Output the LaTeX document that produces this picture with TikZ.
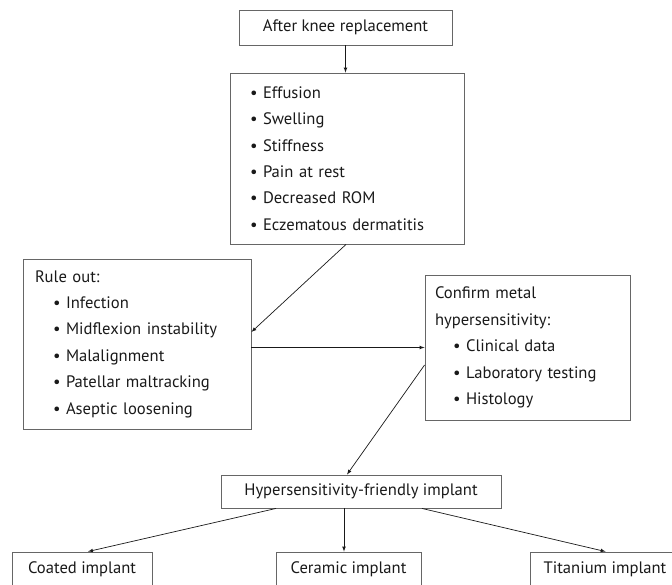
\documentclass[tikz,border=0pt]{standalone}
\usepackage{fontspec}
\setmainfont{PT Sans}
\usepackage{tikz}
\usetikzlibrary{arrows,positioning}
\tikzstyle{block} = [
	draw = black!60,
	line width = 0.9pt,
	rectangle,
	align = left,
	inner sep = 0pt,
	text = black!90,
	font = \fontsize{16.6}{26.4}\selectfont
]
\tikzstyle{line} = [black!90, line width = 0.7pt]
\newcommand{\itm}[1]{\mbox{\textbullet\ #1}}
\newcommand{\subitm}[1]{\mbox{\hspace*{18pt}\textbullet\ #1}}

\begin{document}
\begin{tikzpicture}[x=1pt, y=1pt, node distance=2cm, >=latex']
	\clip (0,0) rectangle (672,-585);
	\node [block, minimum width=213pt, minimum height=35pt] (knee) at (345.5,-27.5) {After knee replacement};
	\node [block, below of=knee, node distance=131pt, xshift=1.5pt, inner xsep=20pt, text width=194pt, minimum height=171pt] (symptoms) {\itm{Effusion}\\ \itm{Swelling}\\ \itm{Stiffness}\\ \itm{Pain at rest}\\ \itm{Decreased ROM}\\ \itm{Eczematous dermatitis}};
	\node [block, inner xsep=12pt, text width=204pt, minimum height=170pt] (ruleout) at (137,-344) {Rule out:\\ \subitm{Infection}\\ \subitm{Midflexion instability}\\ \subitm{Malalignment}\\ \subitm{Patellar maltracking}\\ \subitm{Aseptic loosening}};
	\node [block, inner xsep=10pt, text width=185pt, minimum height=145pt] (confirm) at (527.5,-347.5) {Confirm metal\\ hypersensitivity:\\ \subitm{Clinical data}\\ \subitm{Laboratory testing}\\ \subitm{Histology}};
	\node [block, minimum width=280pt, minimum height=33pt] (friendly) at (361,-491.5) {Hypersensitivity-friendly implant};
	\node [block, below of=friendly, node distance=78pt, xshift=-12.5pt, minimum width=145pt, minimum height=35pt] (ceramic) {Ceramic implant};
	\node [block, left of=ceramic, node distance=266.5pt, minimum width=140pt, minimum height=35pt] (coated) {Coated implant};
	\node [block, right of=ceramic, node distance=256.5pt, minimum width=150pt, minimum height=35pt] (titanium) {Titanium implant};

	% flow down to the implant choice
	\draw[line, -latex] (knee.south) -- (knee.south |- symptoms.north);
	\draw[line, -latex] ([xshift=-1pt]symptoms.south) -- ([yshift=12pt]ruleout.east);
	\draw[line, -latex] (ruleout.east |- confirm.west) -- (confirm.west);
	\draw[line, -latex] ([yshift=-17.5pt]confirm.west) -- ([xshift=-14pt]friendly.north);
	\draw[line, -latex] ([xshift=-85pt]friendly.south) -- ([xshift=6pt]coated.north);
	\draw[line, -latex] ([xshift=-4.5pt]ceramic.north |- friendly.south) -- ([xshift=-4.5pt]ceramic.north);
	\draw[line, -latex] ([xshift=61pt]friendly.south) -- ([xshift=76pt]titanium.north west);
\end{tikzpicture}
\end{document}
